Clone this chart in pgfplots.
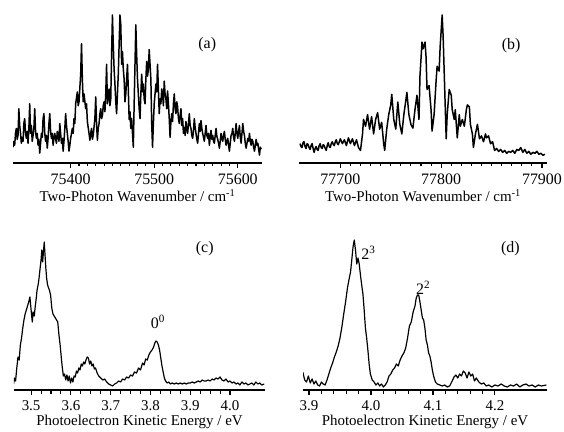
\documentclass[border=0pt]{standalone}
\usepackage{fontspec}
\setmainfont{Liberation Serif}
\usepackage{pgfplots}
\pgfplotsset{compat=1.18}
\pgfplotsset{
  spec/.style={
    scale only axis, anchor=south west,
    axis x line=bottom, hide y axis,
    ymin=0,
    tick align=outside,
    major tick length=5bp, minor tick length=3.5bp,
    every tick/.style={black, line width=1.1pt},
    axis line style={line width=1.6pt, -},
    x axis line style={-},
    /pgf/number format/assume math mode=true,
    /pgf/number format/1000 sep={},
    scaled x ticks=false,
    tick label style={font=\fontsize{15}{17}\selectfont},
    xticklabel style={anchor=center, yshift=-11bp},
    xlabel style={font=\fontsize{15}{17}\selectfont, at={(axis description cs:0.5,0)}, anchor=center},
  }
}
\begin{document}
\begin{tikzpicture}
\useasboundingbox (0,0) rectangle (564bp,432bp);
% ---------------- (a)
\begin{axis}[spec, at={(13bp,269bp)}, width=249bp, height=150bp,
  xmin=75331, xmax=75629, ymax=152,
  xtick={75400,75500,75600}, minor x tick num=9,
  tick label style={font=\fontsize{16}{18}\selectfont},
  xlabel={Two-Photon Wavenumber / cm\textsuperscript{-1}},
  xlabel style={yshift=-33bp}]
\addplot[black, line width=1.5pt, line join=round] coordinates {
(75331,16)(75332,22)(75333,18)(75334,30)(75335,35)(75336,24)(75337,28)(75338,55)(75339,38)(75340,30)
(75341,20)(75342,26)(75343,22)(75344,40)(75345,45)(75346,30)(75347,25)(75348,32)(75349,20)(75350,35)
(75351,60)(75352,30)(75353,38)(75354,22)(75355,28)(75356,35)(75357,55)(75358,32)(75359,25)(75360,30)
(75361,18)(75362,24)(75363,10)(75364,20)(75365,30)(75366,26)(75367,45)(75368,50)(75369,30)(75370,22)
(75371,28)(75372,15)(75373,25)(75374,40)(75375,50)(75376,32)(75377,25)(75378,30)(75379,18)(75380,26)
(75381,30)(75382,24)(75383,20)(75384,32)(75385,28)(75386,22)(75387,40)(75388,30)(75389,20)(75390,25)
(75391,12)(75392,22)(75393,35)(75394,50)(75395,38)(75396,30)(75397,22)(75398,12)(75399,18)(75400,25)
(75402,35)(75403,30)
(75404,45)(75405,40)(75406,60)(75408,72)(75409,58)(75410,62)(75412,90)(75413,121)(75414,85)(75415,62)(75416,70)(75418,55)(75419,60)(75420,42)
(75422,30)(75423,23)(75424,30)(75425,35)(75426,24)(75427,28)(75429,45)(75430,67)(75431,40)(75432,23)(75433,35)(75434,40)(75435,50)(75436,55)
(75437,45)(75438,48)(75439,58)(75440,62)(75441,52)(75442,70)(75443,100)(75444,60)(75445,68)(75446,75)(75447,58)(75448,65)(75449,110)(75450,150)(75451,120)
(75452,95)(75453,80)(75454,62)(75455,50)(75456,70)(75457,90)(75458,120)(75459,150)(75460,140)(75461,100)(75462,113)(75463,95)(75464,85)(75465,62)(75466,70)(75467,85)(75468,100)
(75469,75)(75470,44)(75471,52)(75472,35)(75473,45)(75474,30)(75475,16)(75476,60)(75477,100)(75478,140)(75479,110)(75480,85)(75481,70)(75482,55)(75483,45)
(75484,70)(75485,90)(75486,72)(75487,80)(75488,65)(75489,60)(75490,85)(75491,103)(75492,88)(75493,95)(75494,115)(75495,100)(75496,85)(75497,40)(75498,16)(75499,40)(75500,60)
(75501,70)(75502,80)(75503,72)(75504,100)(75505,75)(75506,50)(75507,65)(75508,60)(75509,75)(75510,70)(75511,58)(75512,83)(75513,70)(75514,65)(75515,55)(75516,73)(75517,60)(75518,45)
(75519,26)(75520,42)(75521,50)(75522,42)(75523,60)(75524,70)(75525,55)(75526,50)(75527,62)(75528,57)(75529,45)
(75530,40)(75531,48)(75532,55)(75533,38)(75534,45)(75535,30)(75536,36)(75537,28)(75538,42)(75539,35)
(75540,30)(75541,40)(75542,50)(75543,38)(75544,35)(75545,28)(75546,25)(75547,33)(75548,45)(75549,36)
(75550,30)(75551,24)(75552,20)(75553,30)(75554,40)(75555,32)(75556,43)(75557,35)(75558,30)(75559,26)
(75560,22)(75561,30)(75562,38)(75563,28)(75564,25)(75565,30)(75566,18)(75567,26)(75568,33)(75569,24)
(75570,28)(75571,22)(75572,20)(75573,28)(75574,35)(75575,27)(75576,24)(75577,20)(75578,15)(75579,22)
(75580,30)(75581,25)(75582,22)(75583,28)(75584,32)(75585,24)(75586,18)(75587,22)(75588,25)(75589,18)
(75590,12)(75591,20)(75592,28)(75593,30)(75594,35)(75595,26)(75596,22)(75597,30)(75598,40)(75599,30)
(75600,25)(75601,32)(75602,38)(75603,26)(75604,20)(75605,30)(75606,40)(75607,32)(75608,28)(75609,20)
(75610,15)(75611,20)(75612,25)(75613,22)(75614,30)(75615,22)(75616,18)(75617,24)(75618,22)(75619,16)
(75620,12)(75621,18)(75622,24)(75623,18)(75624,20)(75625,14)(75626,8)(75627,16)(75628,14)
};
\node[font=\fontsize{16}{18}\selectfont] at (rel axis cs:0.78,0.79) {(a)};
\end{axis}
% ---------------- (b)
\begin{axis}[spec, at={(299bp,269bp)}, width=248bp, height=150bp,
  xmin=77659, xmax=77905, ymax=155,
  xtick={77700,77800,77900}, minor x tick num=9,
  tick label style={font=\fontsize{16}{18}\selectfont},
  xlabel={Two-Photon Wavenumber / cm\textsuperscript{-1}},
  xlabel style={yshift=-33bp}]
\addplot[black, line width=1.5pt, line join=round] coordinates {
(77660,20)(77661,17)(77662,16)(77663,21)(77664,22)(77665,17)(77666,15)(77667,20)(77668,19)(77669,16)(77670,14)(77671,18)(77672,20)(77673,15)(77674,11)(77675,15)(77676,17)(77677,14)(77678,13)
(77679,18)(77680,20)(77681,16)(77682,15)(77683,19)(77684,18)(77685,15)(77686,13)(77687,18)(77688,21)(77689,17)(77690,16)(77691,20)(77692,22)(77693,19)(77694,18)(77695,22)(77696,24)(77697,20)(77698,19)
(77700,25)(77702,20)(77704,24)(77706,18)(77708,26)(77710,20)(77712,25)(77714,18)(77716,24)(77718,16)
(77720,13)(77722,30)(77723,45)(77725,38)(77727,50)(77729,35)(77731,48)(77733,30)(77735,45)(77737,52)
(77739,35)(77741,42)(77743,20)(77744,13)(77746,35)(77748,50)(77750,60)(77751,71)(77753,45)(77755,35)
(77757,63)(77759,40)(77761,30)(77763,50)(77765,65)(77766,73)(77768,50)(77770,40)(77772,36)(77774,55)
(77776,70)(77778,45)(77779,90)(77781,125)(77782,118)(77784,125)(77785,110)(77786,76)(77788,80)(77790,55)
(77791,33)(77793,50)(77795,85)(77796,100)(77798,95)(77799,120)(77801,153)(77802,130)(77803,95)(77804,60)
(77805,25)(77806,50)(77808,76)(77810,70)(77811,55)(77813,45)(77814,55)(77816,26)(77818,50)(77819,38)
(77821,45)(77823,38)(77825,55)(77826,60)(77828,58)(77829,40)(77831,30)(77832,16)(77834,30)(77836,40)
(77838,25)(77840,28)(77842,22)(77844,30)(77845,26)(77847,28)(77849,20)(77851,22)(77853,13)(77855,15)
(77857,12)(77859,14)(77861,11)(77863,13)(77865,10)(77867,12)(77869,11)(77871,13)(77873,10)(77875,14)
(77877,13)(77879,16)(77881,11)(77883,14)(77885,10)(77887,12)(77889,9)(77891,11)(77893,10)(77895,12)
(77897,9)(77899,10)(77901,8)(77903,9)
};
\node[font=\fontsize{16}{18}\selectfont] at (rel axis cs:0.855,0.78) {(b)};
\end{axis}
% ---------------- (c)
\begin{axis}[spec, at={(14bp,42bp)}, width=251bp, height=152bp,
  xmin=3.457, xmax=4.088, ymax=152,
  xtick={3.5,3.6,3.7,3.8,3.9,4.0}, minor x tick num=3,
  xticklabel={\pgfmathprintnumber[fixed,fixed zerofill,precision=1]{\tick}},
  xlabel={Photoelectron Kinetic Energy / eV},
  xlabel style={yshift=-32bp}]
\addplot[black, line width=1.2pt, line join=round] coordinates {
(3.456,6)(3.458,12)(3.461,9)(3.464,22)(3.467,33)(3.470,30)(3.473,45)(3.476,52)(3.479,62)(3.482,70)
(3.485,76)(3.488,80)(3.491,84)(3.494,88)(3.497,93)(3.500,80)(3.503,68)(3.505,78)(3.508,74)(3.510,82)
(3.513,92)(3.515,100)(3.518,106)(3.520,112)(3.523,123)(3.525,130)(3.527,140)(3.529,128)(3.531,138)(3.533,148)
(3.535,135)(3.537,122)(3.539,112)(3.541,106)(3.543,103)(3.546,100)(3.549,95)(3.552,82)(3.555,76)(3.558,74)
(3.561,72)(3.564,70)(3.567,68)(3.570,55)(3.573,45)(3.576,32)(3.578,24)(3.581,14)(3.584,16)(3.587,10)
(3.590,15)(3.593,9)(3.596,14)(3.599,7)(3.602,12)(3.605,8)(3.608,14)(3.611,13)(3.614,19)(3.617,17)
(3.620,22)(3.623,20)(3.626,26)(3.629,24)(3.632,28)(3.635,26)(3.638,30)(3.641,33)(3.644,32)(3.647,26)
(3.650,29)(3.653,24)(3.656,26)(3.659,21)(3.662,22)(3.666,17)(3.670,14)(3.675,12)(3.680,10)(3.685,11)
(3.690,8)(3.695,6)(3.700,5)(3.705,4)(3.710,6)(3.715,7)(3.720,9)(3.725,8)(3.730,11)(3.735,10)
(3.740,13)(3.745,12)(3.750,15)(3.755,14)(3.760,18)(3.765,17)(3.770,22)(3.775,20)(3.780,27)(3.784,25)
(3.788,31)(3.792,30)(3.796,35)(3.800,38)(3.804,40)(3.808,43)(3.811,47)(3.814,49)(3.817,48)(3.820,45)
(3.823,40)(3.826,32)(3.829,24)(3.832,18)(3.835,12)(3.838,9)(3.842,7)(3.846,8)(3.850,6)(3.855,7)
(3.860,6)(3.865,7)(3.870,6)(3.875,7)(3.880,6)(3.885,7)(3.890,6)(3.895,7)(3.900,7)(3.905,8)
(3.910,7)(3.915,8)(3.920,9)(3.925,8)(3.930,10)(3.935,9)(3.940,9)(3.945,10)(3.950,9)(3.955,11)
(3.960,10)(3.965,12)(3.970,11)(3.975,13)(3.980,10)(3.985,9)(3.990,11)(3.995,8)(4.000,9)(4.005,7)
(4.010,8)(4.015,6)(4.020,7)(4.025,5)(4.030,8)(4.035,6)(4.040,7)(4.045,5)(4.050,6)(4.055,7)
(4.060,5)(4.065,8)(4.070,6)(4.075,7)(4.080,5)(4.086,6)
};
\node[font=\fontsize{16}{18}\selectfont] at (rel axis cs:0.76,0.93) {(c)};
\node[font=\fontsize{16}{18}\selectfont] at (axis cs:3.819,68) {0\textsuperscript{0}};
\end{axis}
% ---------------- (d)
\begin{axis}[spec, at={(303bp,42bp)}, width=244bp, height=152bp,
  xmin=3.8903, xmax=4.284, ymax=152,
  xtick={3.9,4.0,4.1,4.2}, minor x tick num=4,
  xticklabel={\pgfmathprintnumber[fixed,fixed zerofill,precision=1]{\tick}},
  xlabel={Photoelectron Kinetic Energy / eV},
  xlabel style={yshift=-32bp}]
\addplot[black, line width=1.2pt, line join=round] coordinates {
(3.890,18)(3.893,10)(3.896,8)(3.899,14)(3.902,7)(3.905,11)(3.908,6)(3.911,9)(3.914,5)(3.917,4)
(3.920,8)(3.923,6)(3.926,5)(3.929,10)(3.932,16)(3.935,22)(3.938,27)(3.941,33)(3.944,38)(3.947,44)
(3.950,52)(3.953,63)(3.956,76)(3.959,88)(3.962,102)(3.965,112)(3.967,118)(3.969,130)(3.971,143)(3.973,150)
(3.975,140)(3.977,126)(3.979,132)(3.981,126)(3.983,115)(3.985,105)(3.987,96)(3.989,80)(3.991,62)(3.993,52)
(3.995,40)(3.997,26)(3.999,16)(4.002,10)(4.005,8)(4.008,5)(4.011,7)(4.014,4)(4.017,6)(4.020,3)
(4.023,5)(4.026,8)(4.029,14)(4.032,16)(4.035,20)(4.038,22)(4.041,26)(4.044,24)(4.047,30)(4.050,34)
(4.053,37)(4.056,42)(4.059,52)(4.062,64)(4.065,68)(4.068,78)(4.071,84)(4.073,92)(4.075,95)(4.077,95)
(4.079,88)(4.081,80)(4.083,72)(4.085,70)(4.087,62)(4.089,50)(4.091,45)(4.093,37)(4.095,34)(4.097,28)
(4.099,20)(4.101,14)(4.104,8)(4.107,6)(4.111,5)(4.115,4)(4.119,5)(4.123,3)(4.127,4)(4.131,9)
(4.134,13)(4.137,15)(4.140,12)(4.143,16)(4.146,14)(4.149,19)(4.152,17)(4.155,12)(4.158,18)(4.161,14)
(4.164,16)(4.167,9)(4.170,12)(4.174,8)(4.178,6)(4.182,7)(4.186,4)(4.190,5)(4.195,3)(4.200,5)
(4.205,4)(4.210,6)(4.215,4)(4.220,3)(4.225,5)(4.230,4)(4.235,6)(4.240,3)(4.245,5)(4.250,6)
(4.255,4)(4.260,5)(4.265,3)(4.270,5)(4.275,4)(4.283,5)
};
\node[font=\fontsize{16}{18}\selectfont] at (rel axis cs:0.85,0.93) {(d)};
\node[font=\fontsize{16}{18}\selectfont] at (axis cs:3.996,137) {2\textsuperscript{3}};
\node[font=\fontsize{16}{18}\selectfont] at (axis cs:4.084,102) {2\textsuperscript{2}};
\end{axis}
\end{tikzpicture}
\end{document}
